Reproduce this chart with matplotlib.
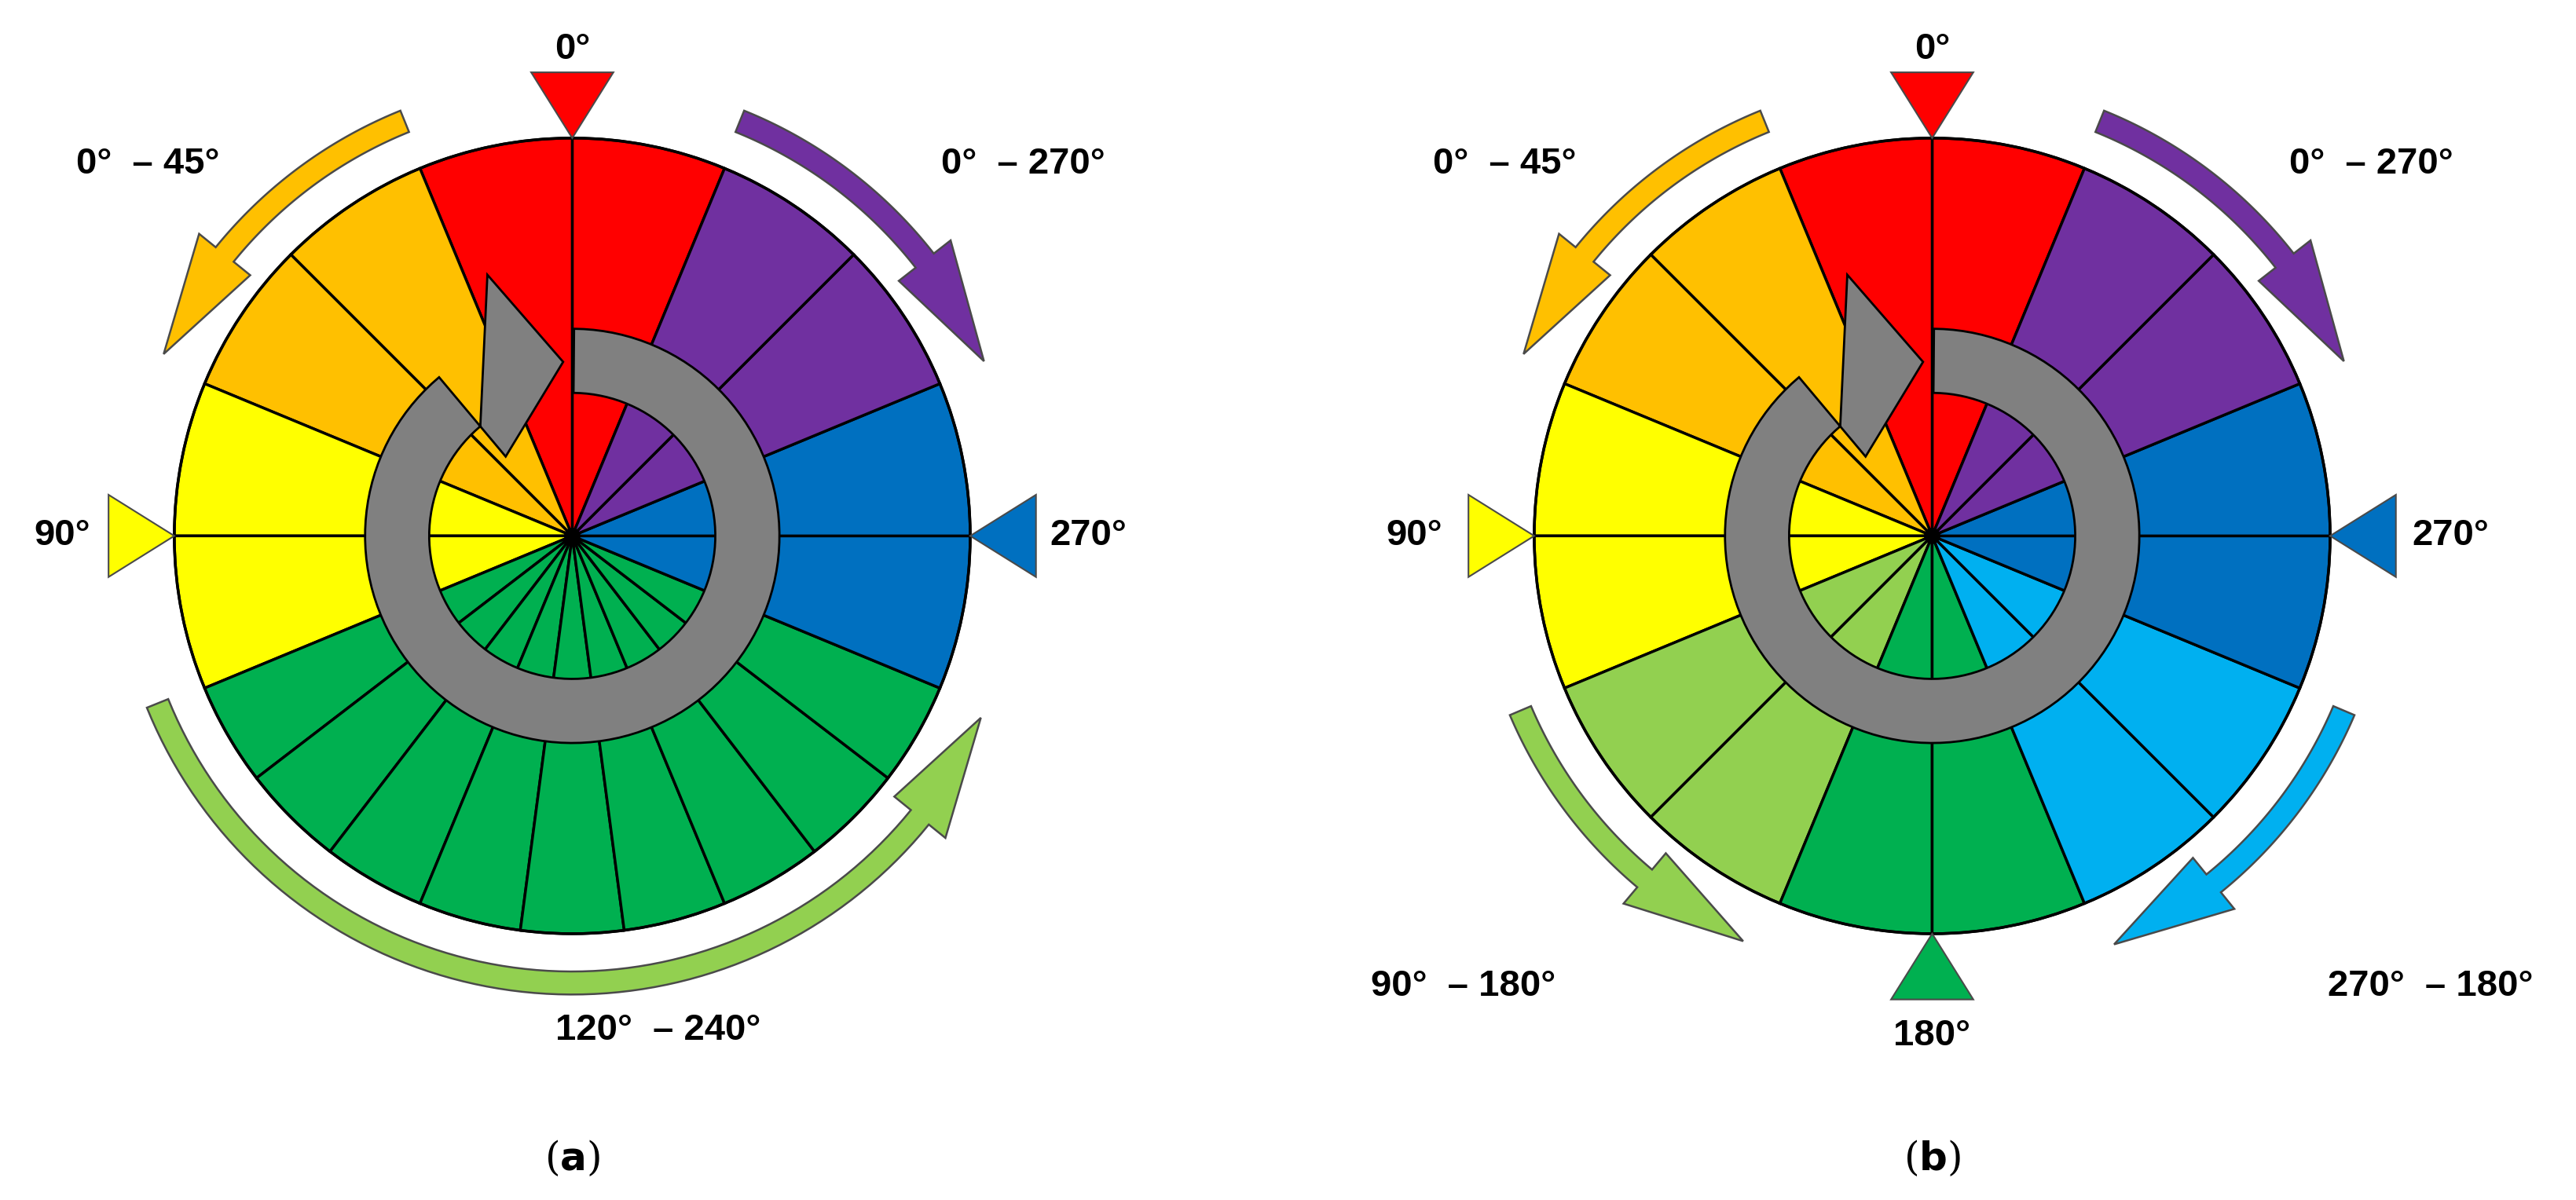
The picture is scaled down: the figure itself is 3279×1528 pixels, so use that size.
import numpy as np
import matplotlib.pyplot as plt
from matplotlib.patches import Polygon, Circle

# angles: degrees counter-clockwise from top (0 = top, 90 = left, 270 = right)
RED, ORANGE, YELLOW = '#FF0000', '#FFC000', '#FFFF00'
GREEN, LGREEN = '#00B050', '#92D050'
BLUE, LBLUE, PURPLE = '#0070C0', '#00B0F0', '#7030A0'

# wheel (a): sector edges and colours
edges_a = [-22.5, 0, 22.5, 45, 67.5, 90, 112.5] + list(np.arange(127.5, 247.6, 15)) + [270, 292.5, 315, 337.5]
colors_a = [RED, RED, ORANGE, ORANGE, YELLOW, YELLOW] + [GREEN] * 9 + [BLUE, BLUE, PURPLE, PURPLE]
# wheel (b)
edges_b = list(np.arange(-22.5, 337.6, 22.5))
colors_b = [RED, RED, ORANGE, ORANGE, YELLOW, YELLOW, LGREEN, LGREEN,
            GREEN, GREEN, LBLUE, LBLUE, BLUE, BLUE, PURPLE, PURPLE]

# curved arrows: (start angle, end angle, colour)
arrows_a = [(22, 66, ORANGE), (-22, -67, PURPLE), (112, 246, LGREEN)]
arrows_b = [(22, 66, ORANGE), (-22, -67, PURPLE), (113, 155, LGREEN), (247, 204, LBLUE)]

# marker triangles: angle, colour
marks_a = [(0, RED), (90, YELLOW), (270, BLUE)]
marks_b = [(0, RED), (90, YELLOW), (270, BLUE), (180, GREEN)]

R = 242
fig = plt.figure(figsize=(32.8, 15.28), dpi=100)
ax = fig.add_axes([0, 0, 1, 1])
ax.set_xlim(0, 1567)
ax.set_ylim(730, 0)
ax.set_aspect('equal')
ax.axis('off')


def pt(c, a, r):
    t = np.radians(90 + a)
    return c[0] + r * np.cos(t), c[1] - r * np.sin(t)


def arc_poly(c, a0, a1, r_in, r_out, n=80):
    aa = np.linspace(a0, a1, n)
    outer = [pt(c, a, r_out) for a in aa]
    inner = [pt(c, a, r_in) for a in aa[::-1]]
    return outer + inner


def curved_arrow(c, a0, a1, color, r=272, w=14, hw=40, hl=15):
    s = np.sign(a1 - a0)
    ab = a1 - s * hl
    aa = np.linspace(a0, ab, 80)
    pts = [pt(c, a, r + w / 2) for a in aa]
    pts += [pt(c, ab, r + hw / 2), pt(c, a1, r), pt(c, ab, r - hw / 2)]
    pts += [pt(c, a, r - w / 2) for a in aa[::-1]]
    ax.add_patch(Polygon(pts, closed=True, fc=color, ec='#4a4a4a', lw=1.8, zorder=3))


def wheel(c, edges, colors, arrows, marks):
    for i, col in enumerate(colors):
        a0 = edges[i]
        a1 = edges[i + 1] if i + 1 < len(edges) else edges[0] + 360
        ax.add_patch(Polygon([c] + [pt(c, a, R) for a in np.linspace(a0, a1, 30)],
                             closed=True, fc=col, ec='black', lw=2.5, zorder=1))
    ax.add_patch(Circle(c, R, fill=False, ec='black', lw=2.5, zorder=2))
    ax.add_patch(Circle(c, 5, fc='black', zorder=2))
    # gray rotating ring with arrowhead
    aa = np.linspace(-0.5, -320, 120)
    ring = [pt(c, a, 126) for a in aa]
    ring += [pt(c, 40, 63), pt(c, 3, 106), pt(c, 18, 167)]
    ring += [pt(c, a, 87) for a in aa[::-1]]
    ax.add_patch(Polygon(ring, closed=True, fc='#808080', ec='black', lw=2, zorder=4))
    for a0, a1, col in arrows:
        curved_arrow(c, a0, a1, col)
    for a, col in marks:
        tip = pt(c, a, R)
        base = pt(c, a, R + 40)
        t = np.radians(90 + a)
        px, py = -np.sin(t) * 25, -np.cos(t) * 25
        tri = [tip, (base[0] + px, base[1] + py), (base[0] - px, base[1] - py)]
        ax.add_patch(Polygon(tri, closed=True, fc=col, ec='#4a4a4a', lw=1.5, zorder=3))


ca, cb = (348, 326), (1175, 326)
wheel(ca, edges_a, colors_a, arrows_a, marks_a)
wheel(cb, edges_b, colors_b, arrows_b, marks_b)

kw = dict(fontsize=34, fontweight='bold', family='Liberation Sans', ha='center', va='center')
labels = [
    (348, 30, '0°'), (38, 326, '90°'), (662, 326, '270°'),
    (90, 100, '0°  – 45°'), (622, 100, '0°  – 270°'), (400, 627, '120°  – 240°'),
    (1175, 30, '0°'), (860, 326, '90°'), (1490, 326, '270°'), (1175, 630, '180°'),
    (915, 100, '0°  – 45°'), (1442, 100, '0°  – 270°'),
    (890, 600, '90°  – 180°'), (1478, 600, '270°  – 180°'),
]
for x, y, s in labels:
    ax.text(x, y, s, **kw)
ax.text(348, 705, r'($\mathbf{a}$)', fontsize=36, ha='center', va='center', family='serif')
ax.text(1175, 705, r'($\mathbf{b}$)', fontsize=36, ha='center', va='center', family='serif')

fig.savefig('out.png', dpi=100)
